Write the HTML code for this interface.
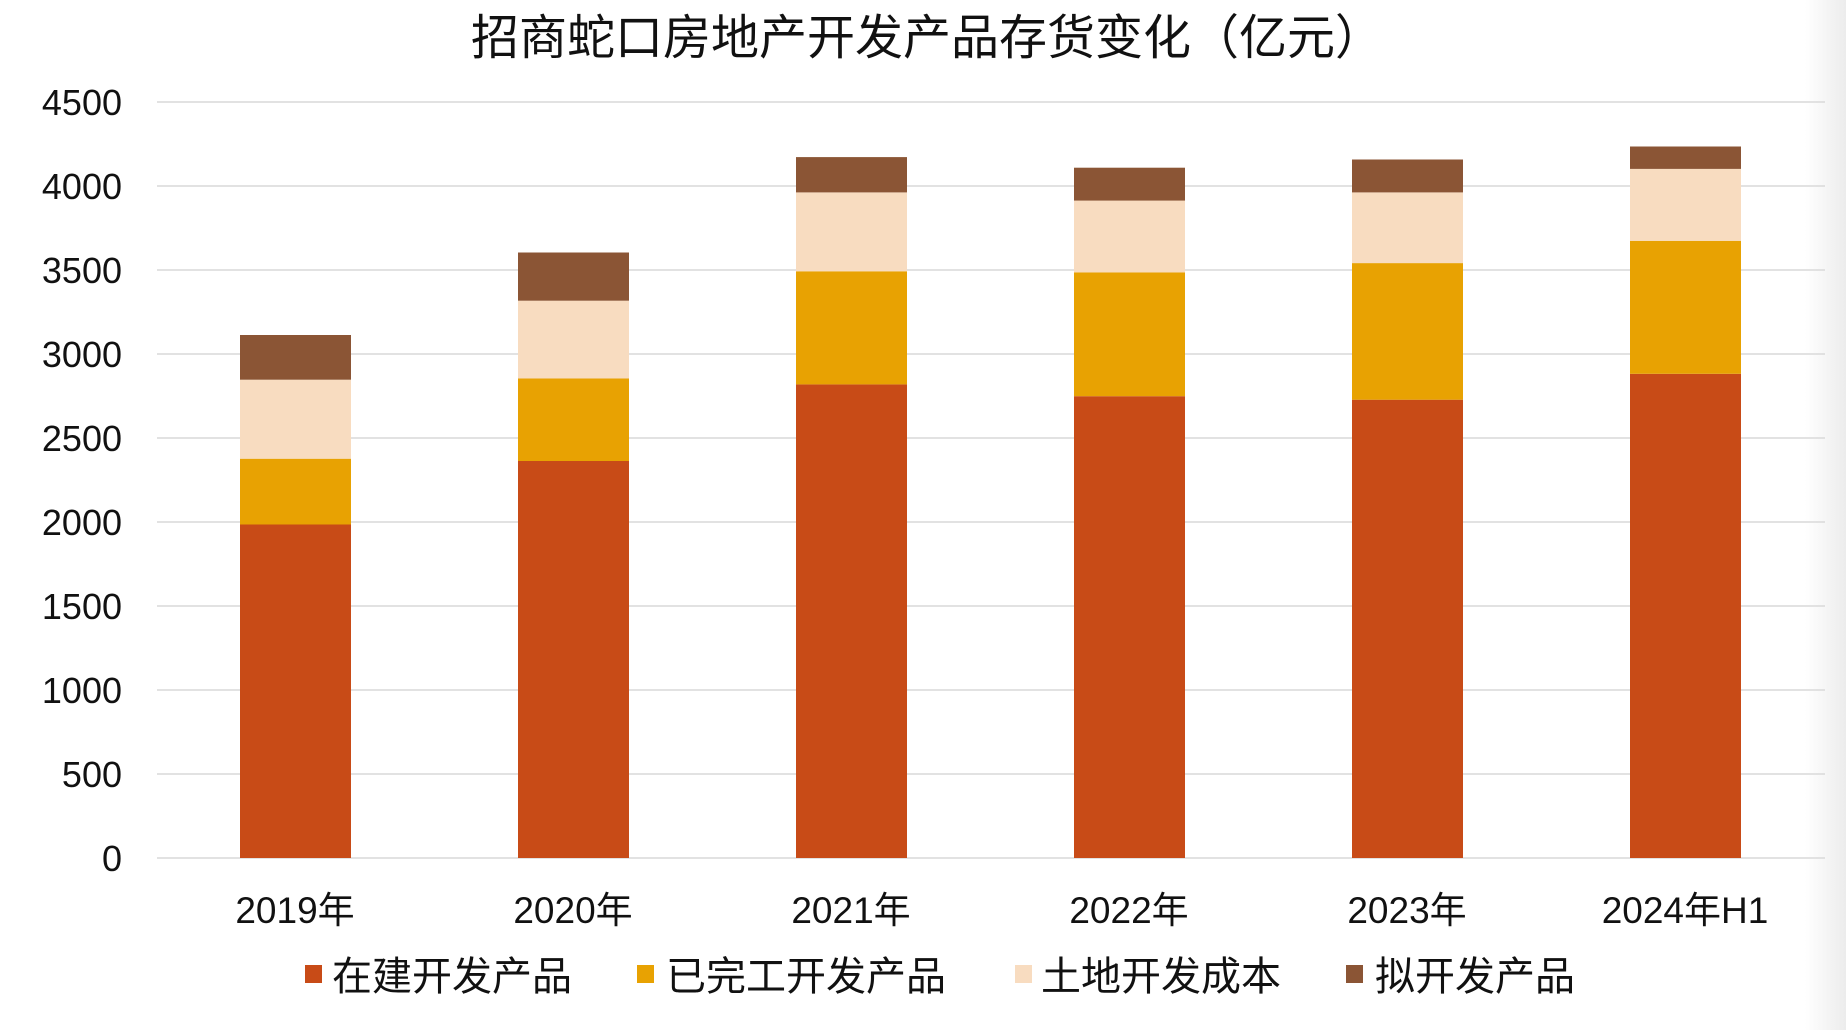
<!DOCTYPE html>
<html><head><meta charset="utf-8"><style>
html,body{margin:0;padding:0;background:#fff;}
svg{display:block;}
text{font-family:"Liberation Sans","Noto Sans CJK SC",sans-serif;fill:#111;}
</style></head><body>
<svg width="1846" height="1030" viewBox="0 0 1846 1030">
<defs><linearGradient id="g" x1="0" x2="1"><stop offset="0" stop-color="#fff"/><stop offset="1" stop-color="#ececec"/></linearGradient></defs>
<rect x="1805" y="0" width="41" height="1030" fill="url(#g)"/>
<text x="927" y="54" font-size="48" text-anchor="middle">招商蛇口房地产开发产品存货变化（亿元）</text>
<g stroke="#d9d9d9" stroke-width="1.5">
<line x1="157" x2="1825" y1="102" y2="102"/><line x1="157" x2="1825" y1="186" y2="186"/>
<line x1="157" x2="1825" y1="270" y2="270"/><line x1="157" x2="1825" y1="354" y2="354"/>
<line x1="157" x2="1825" y1="438" y2="438"/><line x1="157" x2="1825" y1="522" y2="522"/>
<line x1="157" x2="1825" y1="606" y2="606"/><line x1="157" x2="1825" y1="690" y2="690"/>
<line x1="157" x2="1825" y1="774" y2="774"/><line x1="157" x2="1825" y1="858" y2="858"/>
</g>
<g font-size="36" text-anchor="end">
<text x="122" y="115">4500</text><text x="122" y="199">4000</text><text x="122" y="283">3500</text>
<text x="122" y="367">3000</text><text x="122" y="451">2500</text><text x="122" y="535">2000</text>
<text x="122" y="619">1500</text><text x="122" y="703">1000</text><text x="122" y="787">500</text>
<text x="122" y="871">0</text>
</g>
<g>
<rect x="240" y="524.5" width="111" height="333.5" fill="#C84B17"/>
<rect x="240" y="458.7" width="111" height="65.8" fill="#E8A202"/>
<rect x="240" y="379.7" width="111" height="79" fill="#F8DCC0"/>
<rect x="240" y="335" width="111" height="44.7" fill="#8B5535"/>

<rect x="518" y="461" width="111" height="397" fill="#C84B17"/>
<rect x="518" y="378.5" width="111" height="82.5" fill="#E8A202"/>
<rect x="518" y="300.7" width="111" height="77.8" fill="#F8DCC0"/>
<rect x="518" y="252.5" width="111" height="48.2" fill="#8B5535"/>

<rect x="796" y="384.4" width="111" height="473.6" fill="#C84B17"/>
<rect x="796" y="271.3" width="111" height="113.1" fill="#E8A202"/>
<rect x="796" y="192.4" width="111" height="78.9" fill="#F8DCC0"/>
<rect x="796" y="157.1" width="111" height="35.3" fill="#8B5535"/>

<rect x="1074" y="396.2" width="111" height="461.8" fill="#C84B17"/>
<rect x="1074" y="272.5" width="111" height="123.7" fill="#E8A202"/>
<rect x="1074" y="200.6" width="111" height="71.9" fill="#F8DCC0"/>
<rect x="1074" y="167.7" width="111" height="32.9" fill="#8B5535"/>

<rect x="1352" y="399.7" width="111" height="458.3" fill="#C84B17"/>
<rect x="1352" y="263.1" width="111" height="136.6" fill="#E8A202"/>
<rect x="1352" y="192.4" width="111" height="70.7" fill="#F8DCC0"/>
<rect x="1352" y="159.5" width="111" height="32.9" fill="#8B5535"/>

<rect x="1630" y="373.8" width="111" height="484.2" fill="#C84B17"/>
<rect x="1630" y="240.8" width="111" height="133" fill="#E8A202"/>
<rect x="1630" y="168.9" width="111" height="71.9" fill="#F8DCC0"/>
<rect x="1630" y="146.5" width="111" height="22.4" fill="#8B5535"/>
</g>
<g font-size="37" text-anchor="middle">
<text x="295" y="923">2019年</text><text x="573" y="923">2020年</text><text x="851" y="923">2021年</text>
<text x="1129" y="923">2022年</text><text x="1407" y="923">2023年</text><text x="1685" y="923">2024年H1</text>
</g>
<g font-size="40">
<rect x="305" y="965" width="17" height="18" fill="#C84B17"/><text x="332" y="990">在建开发产品</text>
<rect x="637" y="965" width="17" height="18" fill="#E8A202"/><text x="666" y="990">已完工开发产品</text>
<rect x="1015" y="965" width="17" height="18" fill="#F8DCC0"/><text x="1041" y="990">土地开发成本</text>
<rect x="1346" y="965" width="17" height="18" fill="#8B5535"/><text x="1375" y="990">拟开发产品</text>
</g>
</svg>
</body></html>
